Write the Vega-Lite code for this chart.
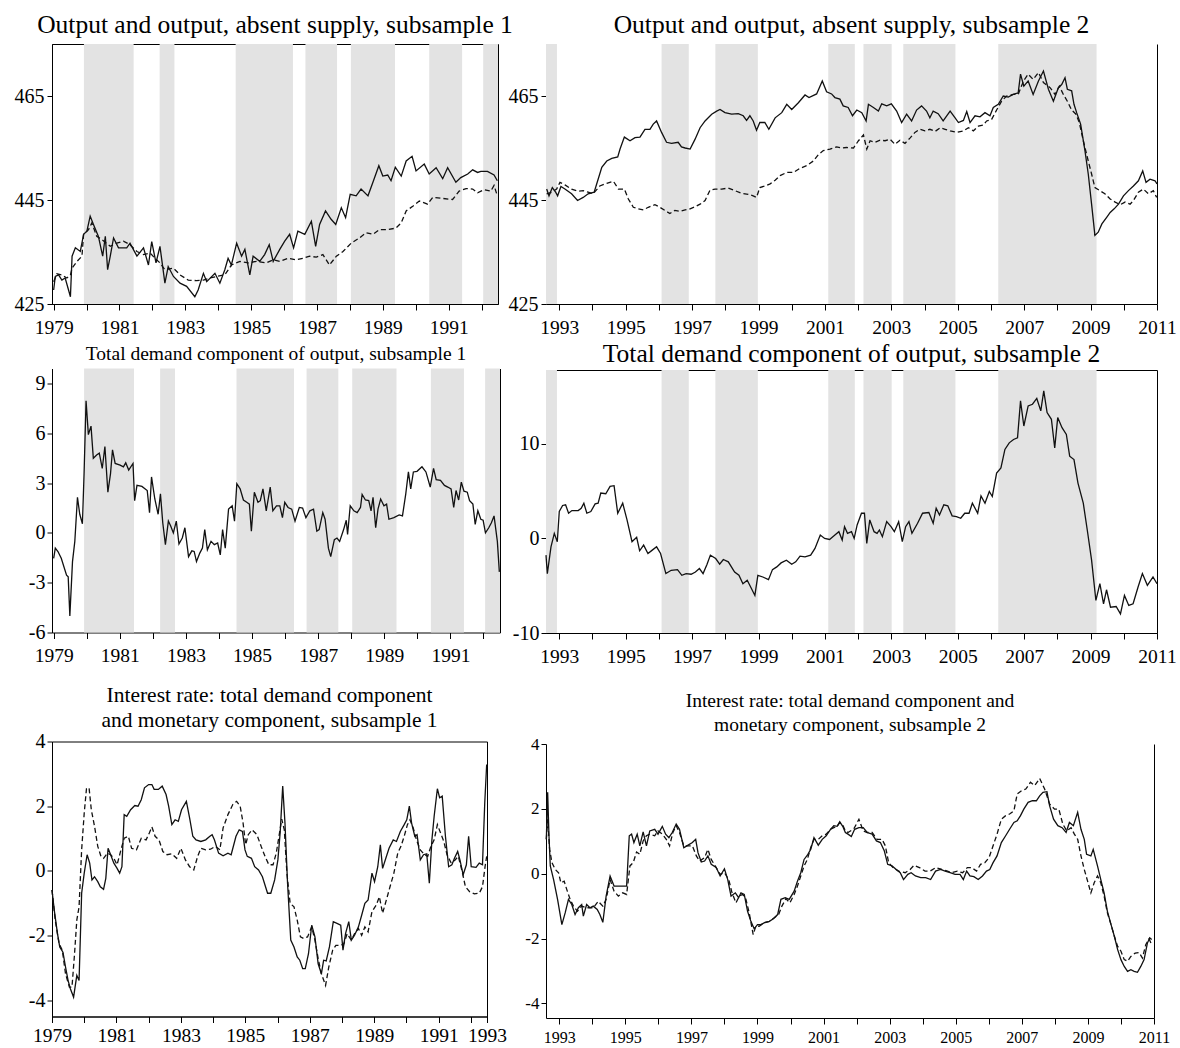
{
"$schema": "https://vega.github.io/schema/vega-lite/v6.json",
"padding": {"left": 0, "top": 12, "right": 0, "bottom": 0},
"background": "white",
"config": {
  "font": "Liberation Serif",
  "view": {"stroke": null},
  "axis": {"grid": false, "domainColor": "#000", "domainWidth": 1, "tickColor": "#000", "tickWidth": 1, "labelColor": "#000", "labelFont": "Liberation Serif", "labelFontSize": 19.5, "labelFlush": false, "labelOverlap": false, "labelBound": false, "titleFont": "Liberation Serif"},
  "title": {"font": "Liberation Serif", "fontWeight": "normal", "color": "#000", "anchor": "middle", "frame": "group"}
},
"datasets": {
  "bands1": [{"start":1979.92,"end":1981.43},{"start":1982.22,"end":1982.67},{"start":1984.53,"end":1986.27},{"start":1986.65,"end":1987.61},{"start":1988.03,"end":1989.37},{"start":1990.41,"end":1991.41},{"start":1992.05,"end":1992.5}],
  "bands2": [{"start":1992.6,"end":1992.93},{"start":1996.08,"end":1996.9},{"start":1997.7,"end":1998.98},{"start":2001.1,"end":2001.9},{"start":2002.16,"end":2003.01},{"start":2003.36,"end":2004.93},{"start":2006.22,"end":2009.18}],
  "out1_output": [{"year":1979.00,"value":427.7},{"year":1979.05,"value":430.3},{"year":1979.15,"value":430.6},{"year":1979.25,"value":429.6},{"year":1979.35,"value":430.0},{"year":1979.51,"value":426.4},{"year":1979.56,"value":434.2},{"year":1979.66,"value":435.8},{"year":1979.81,"value":435.1},{"year":1979.91,"value":438.4},{"year":1980.01,"value":439.0},{"year":1980.11,"value":441.9},{"year":1980.21,"value":440.3},{"year":1980.36,"value":438.0},{"year":1980.49,"value":434.2},{"year":1980.57,"value":438.0},{"year":1980.64,"value":431.6},{"year":1980.72,"value":434.2},{"year":1980.82,"value":437.7},{"year":1980.97,"value":435.8},{"year":1981.22,"value":435.8},{"year":1981.32,"value":436.7},{"year":1981.53,"value":434.2},{"year":1981.73,"value":435.8},{"year":1981.88,"value":432.5},{"year":1981.98,"value":437.0},{"year":1982.11,"value":432.9},{"year":1982.23,"value":436.1},{"year":1982.38,"value":429.0},{"year":1982.48,"value":432.2},{"year":1982.64,"value":430.3},{"year":1982.84,"value":429.0},{"year":1983.04,"value":428.4},{"year":1983.29,"value":426.4},{"year":1983.39,"value":427.7},{"year":1983.55,"value":430.9},{"year":1983.65,"value":429.3},{"year":1983.90,"value":430.9},{"year":1984.05,"value":429.0},{"year":1984.20,"value":431.6},{"year":1984.30,"value":433.8},{"year":1984.40,"value":432.5},{"year":1984.56,"value":436.7},{"year":1984.71,"value":434.2},{"year":1984.81,"value":435.5},{"year":1984.96,"value":430.6},{"year":1985.06,"value":434.2},{"year":1985.26,"value":433.2},{"year":1985.41,"value":434.5},{"year":1985.55,"value":436.4},{"year":1985.67,"value":433.2},{"year":1985.87,"value":435.5},{"year":1986.02,"value":437.1},{"year":1986.17,"value":438.4},{"year":1986.29,"value":435.8},{"year":1986.42,"value":439.0},{"year":1986.63,"value":438.4},{"year":1986.83,"value":440.9},{"year":1986.96,"value":436.1},{"year":1987.08,"value":440.3},{"year":1987.26,"value":442.9},{"year":1987.43,"value":441.3},{"year":1987.57,"value":440.3},{"year":1987.74,"value":443.5},{"year":1987.87,"value":441.6},{"year":1988.01,"value":446.1},{"year":1988.19,"value":445.8},{"year":1988.34,"value":447.1},{"year":1988.55,"value":445.8},{"year":1988.70,"value":448.4},{"year":1988.88,"value":451.6},{"year":1989.00,"value":449.6},{"year":1989.15,"value":449.8},{"year":1989.25,"value":448.7},{"year":1989.38,"value":451.3},{"year":1989.56,"value":449.6},{"year":1989.71,"value":452.5},{"year":1989.89,"value":453.4},{"year":1990.01,"value":450.6},{"year":1990.26,"value":451.9},{"year":1990.41,"value":450.0},{"year":1990.62,"value":451.2},{"year":1990.82,"value":449.1},{"year":1990.97,"value":451.2},{"year":1991.22,"value":448.4},{"year":1991.37,"value":449.3},{"year":1991.58,"value":450.0},{"year":1991.73,"value":450.8},{"year":1991.88,"value":450.3},{"year":1991.98,"value":450.5},{"year":1992.18,"value":450.5},{"year":1992.38,"value":449.8},{"year":1992.48,"value":448.7}],
  "out1_absent": [{"year":1979.00,"value":429.3},{"year":1979.10,"value":430.8},{"year":1979.25,"value":430.6},{"year":1979.40,"value":430.0},{"year":1979.51,"value":430.6},{"year":1979.56,"value":431.9},{"year":1979.71,"value":433.2},{"year":1979.86,"value":434.2},{"year":1979.91,"value":438.4},{"year":1980.06,"value":439.3},{"year":1980.16,"value":440.6},{"year":1980.31,"value":438.0},{"year":1980.46,"value":437.4},{"year":1980.72,"value":436.1},{"year":1980.92,"value":436.7},{"year":1981.12,"value":437.1},{"year":1981.32,"value":436.4},{"year":1981.53,"value":435.1},{"year":1981.73,"value":434.5},{"year":1981.93,"value":434.8},{"year":1982.08,"value":433.8},{"year":1982.23,"value":432.9},{"year":1982.38,"value":431.6},{"year":1982.64,"value":431.9},{"year":1982.84,"value":430.6},{"year":1983.09,"value":429.6},{"year":1983.34,"value":429.5},{"year":1983.55,"value":429.6},{"year":1983.75,"value":430.0},{"year":1983.95,"value":430.3},{"year":1984.20,"value":430.6},{"year":1984.40,"value":432.5},{"year":1984.66,"value":433.2},{"year":1984.91,"value":432.9},{"year":1985.16,"value":433.2},{"year":1985.46,"value":432.9},{"year":1985.67,"value":433.5},{"year":1985.87,"value":433.2},{"year":1986.12,"value":433.8},{"year":1986.37,"value":433.5},{"year":1986.58,"value":433.8},{"year":1986.78,"value":434.2},{"year":1986.98,"value":434.0},{"year":1987.18,"value":434.5},{"year":1987.38,"value":432.5},{"year":1987.59,"value":434.2},{"year":1987.79,"value":435.1},{"year":1988.04,"value":436.7},{"year":1988.29,"value":437.7},{"year":1988.49,"value":438.7},{"year":1988.70,"value":438.4},{"year":1988.90,"value":439.3},{"year":1989.15,"value":439.3},{"year":1989.40,"value":439.6},{"year":1989.56,"value":440.6},{"year":1989.71,"value":442.9},{"year":1989.91,"value":443.8},{"year":1990.11,"value":444.8},{"year":1990.36,"value":444.2},{"year":1990.52,"value":445.5},{"year":1990.82,"value":445.3},{"year":1991.12,"value":445.1},{"year":1991.32,"value":446.7},{"year":1991.53,"value":447.2},{"year":1991.73,"value":447.1},{"year":1991.88,"value":446.4},{"year":1992.08,"value":447.0},{"year":1992.28,"value":446.7},{"year":1992.38,"value":447.8},{"year":1992.48,"value":445.8}],
  "out2_output": [{"year":1992.62,"value":447.1},{"year":1992.69,"value":445.8},{"year":1992.79,"value":447.4},{"year":1992.89,"value":446.5},{"year":1992.95,"value":445.8},{"year":1993.05,"value":447.6},{"year":1993.17,"value":447.1},{"year":1993.37,"value":446.2},{"year":1993.55,"value":444.9},{"year":1993.72,"value":445.5},{"year":1993.87,"value":446.2},{"year":1994.05,"value":446.5},{"year":1994.17,"value":449.0},{"year":1994.28,"value":451.3},{"year":1994.43,"value":452.5},{"year":1994.58,"value":453.0},{"year":1994.76,"value":453.3},{"year":1994.83,"value":454.8},{"year":1994.96,"value":457.1},{"year":1995.13,"value":456.4},{"year":1995.28,"value":457.0},{"year":1995.43,"value":457.1},{"year":1995.58,"value":458.6},{"year":1995.73,"value":458.6},{"year":1995.83,"value":459.6},{"year":1995.93,"value":460.2},{"year":1996.08,"value":458.0},{"year":1996.23,"value":456.1},{"year":1996.38,"value":455.9},{"year":1996.58,"value":456.1},{"year":1996.68,"value":455.2},{"year":1996.79,"value":455.0},{"year":1996.94,"value":454.8},{"year":1997.09,"value":456.7},{"year":1997.24,"value":458.9},{"year":1997.39,"value":460.2},{"year":1997.59,"value":461.5},{"year":1997.74,"value":462.1},{"year":1997.84,"value":462.4},{"year":1997.99,"value":461.8},{"year":1998.19,"value":461.5},{"year":1998.39,"value":461.6},{"year":1998.54,"value":461.2},{"year":1998.64,"value":460.3},{"year":1998.74,"value":461.2},{"year":1998.84,"value":460.2},{"year":1998.94,"value":458.4},{"year":1999.04,"value":459.9},{"year":1999.19,"value":459.9},{"year":1999.31,"value":458.6},{"year":1999.50,"value":460.8},{"year":1999.70,"value":461.8},{"year":1999.85,"value":463.4},{"year":2000.00,"value":462.4},{"year":2000.20,"value":463.7},{"year":2000.40,"value":465.2},{"year":2000.52,"value":464.7},{"year":2000.75,"value":465.4},{"year":2000.92,"value":467.9},{"year":2001.05,"value":465.8},{"year":2001.20,"value":465.4},{"year":2001.30,"value":464.7},{"year":2001.45,"value":464.4},{"year":2001.55,"value":463.1},{"year":2001.70,"value":462.8},{"year":2001.83,"value":461.2},{"year":2001.96,"value":462.3},{"year":2002.11,"value":461.8},{"year":2002.24,"value":460.2},{"year":2002.31,"value":463.4},{"year":2002.46,"value":462.8},{"year":2002.61,"value":462.1},{"year":2002.71,"value":463.5},{"year":2002.86,"value":463.1},{"year":2003.00,"value":463.5},{"year":2003.16,"value":462.1},{"year":2003.31,"value":459.9},{"year":2003.46,"value":461.5},{"year":2003.61,"value":460.2},{"year":2003.76,"value":462.3},{"year":2003.91,"value":463.1},{"year":2004.06,"value":462.1},{"year":2004.16,"value":460.8},{"year":2004.26,"value":462.1},{"year":2004.41,"value":461.6},{"year":2004.56,"value":460.2},{"year":2004.77,"value":462.1},{"year":2004.92,"value":460.8},{"year":2005.02,"value":459.9},{"year":2005.17,"value":460.3},{"year":2005.27,"value":462.0},{"year":2005.37,"value":459.9},{"year":2005.52,"value":461.2},{"year":2005.67,"value":461.0},{"year":2005.82,"value":461.8},{"year":2005.97,"value":461.2},{"year":2006.07,"value":462.8},{"year":2006.22,"value":463.4},{"year":2006.37,"value":465.0},{"year":2006.52,"value":464.8},{"year":2006.67,"value":465.3},{"year":2006.82,"value":465.6},{"year":2006.89,"value":469.2},{"year":2006.99,"value":466.9},{"year":2007.12,"value":467.9},{"year":2007.27,"value":465.3},{"year":2007.43,"value":467.9},{"year":2007.58,"value":469.8},{"year":2007.73,"value":466.3},{"year":2007.88,"value":464.0},{"year":2008.03,"value":466.6},{"year":2008.13,"value":467.2},{"year":2008.23,"value":468.5},{"year":2008.30,"value":466.3},{"year":2008.43,"value":466.0},{"year":2008.50,"value":463.4},{"year":2008.58,"value":461.8},{"year":2008.70,"value":459.6},{"year":2008.83,"value":454.5},{"year":2008.93,"value":450.0},{"year":2009.03,"value":444.2},{"year":2009.13,"value":438.2},{"year":2009.23,"value":438.8},{"year":2009.34,"value":440.4},{"year":2009.49,"value":441.7},{"year":2009.59,"value":442.6},{"year":2009.71,"value":443.3},{"year":2009.84,"value":444.2},{"year":2009.99,"value":445.8},{"year":2010.14,"value":446.8},{"year":2010.29,"value":447.7},{"year":2010.44,"value":448.7},{"year":2010.57,"value":450.6},{"year":2010.67,"value":448.4},{"year":2010.79,"value":449.0},{"year":2010.94,"value":448.7},{"year":2011.00,"value":448.1}],
  "out2_absent": [{"year":1992.62,"value":446.2},{"year":1992.77,"value":446.5},{"year":1992.92,"value":447.1},{"year":1993.02,"value":448.4},{"year":1993.17,"value":447.9},{"year":1993.37,"value":447.1},{"year":1993.57,"value":446.7},{"year":1993.72,"value":446.8},{"year":1993.87,"value":446.5},{"year":1994.02,"value":446.2},{"year":1994.22,"value":447.7},{"year":1994.43,"value":448.2},{"year":1994.63,"value":448.6},{"year":1994.78,"value":447.1},{"year":1994.96,"value":447.1},{"year":1995.08,"value":445.2},{"year":1995.23,"value":443.6},{"year":1995.38,"value":443.3},{"year":1995.53,"value":443.1},{"year":1995.68,"value":443.6},{"year":1995.88,"value":444.1},{"year":1996.03,"value":443.6},{"year":1996.18,"value":443.0},{"year":1996.33,"value":442.4},{"year":1996.48,"value":443.0},{"year":1996.63,"value":442.8},{"year":1996.79,"value":443.1},{"year":1996.94,"value":443.3},{"year":1997.09,"value":443.7},{"year":1997.24,"value":444.2},{"year":1997.39,"value":444.9},{"year":1997.54,"value":446.9},{"year":1997.69,"value":447.1},{"year":1997.89,"value":447.1},{"year":1998.09,"value":447.3},{"year":1998.29,"value":446.8},{"year":1998.49,"value":446.3},{"year":1998.69,"value":446.1},{"year":1998.84,"value":445.8},{"year":1998.94,"value":445.5},{"year":1999.04,"value":447.4},{"year":1999.19,"value":447.7},{"year":1999.35,"value":448.1},{"year":1999.50,"value":448.8},{"year":1999.65,"value":449.7},{"year":1999.85,"value":450.3},{"year":2000.05,"value":450.3},{"year":2000.25,"value":451.1},{"year":2000.45,"value":451.6},{"year":2000.65,"value":452.5},{"year":2000.80,"value":453.7},{"year":2000.95,"value":454.5},{"year":2001.15,"value":454.8},{"year":2001.35,"value":455.2},{"year":2001.50,"value":455.0},{"year":2001.65,"value":455.1},{"year":2001.86,"value":455.0},{"year":2002.01,"value":456.4},{"year":2002.16,"value":457.5},{"year":2002.26,"value":454.8},{"year":2002.36,"value":456.4},{"year":2002.51,"value":456.1},{"year":2002.66,"value":456.5},{"year":2002.81,"value":456.4},{"year":2002.96,"value":456.7},{"year":2003.11,"value":455.7},{"year":2003.26,"value":456.5},{"year":2003.41,"value":455.9},{"year":2003.56,"value":456.9},{"year":2003.71,"value":458.0},{"year":2003.86,"value":458.6},{"year":2004.01,"value":458.3},{"year":2004.16,"value":458.6},{"year":2004.32,"value":458.2},{"year":2004.47,"value":458.9},{"year":2004.62,"value":458.6},{"year":2004.77,"value":458.3},{"year":2004.97,"value":458.0},{"year":2005.17,"value":458.3},{"year":2005.32,"value":458.9},{"year":2005.47,"value":458.3},{"year":2005.62,"value":459.2},{"year":2005.77,"value":459.4},{"year":2005.87,"value":460.2},{"year":2006.02,"value":460.5},{"year":2006.17,"value":462.3},{"year":2006.32,"value":464.0},{"year":2006.47,"value":465.0},{"year":2006.67,"value":465.3},{"year":2006.82,"value":465.3},{"year":2006.98,"value":467.9},{"year":2007.12,"value":469.2},{"year":2007.27,"value":468.2},{"year":2007.43,"value":469.5},{"year":2007.58,"value":467.6},{"year":2007.78,"value":466.6},{"year":2007.93,"value":465.3},{"year":2008.06,"value":466.9},{"year":2008.18,"value":465.3},{"year":2008.30,"value":464.0},{"year":2008.43,"value":462.3},{"year":2008.56,"value":461.5},{"year":2008.66,"value":459.9},{"year":2008.78,"value":456.4},{"year":2008.93,"value":452.5},{"year":2009.03,"value":450.0},{"year":2009.13,"value":447.4},{"year":2009.28,"value":446.8},{"year":2009.43,"value":446.2},{"year":2009.59,"value":445.2},{"year":2009.74,"value":444.6},{"year":2009.89,"value":444.1},{"year":2010.04,"value":444.6},{"year":2010.19,"value":444.2},{"year":2010.29,"value":444.9},{"year":2010.44,"value":446.5},{"year":2010.59,"value":447.1},{"year":2010.74,"value":446.2},{"year":2010.89,"value":446.8},{"year":2010.99,"value":445.5}],
  "dem1": [{"year":1979.00,"value":-1.53},{"year":1979.05,"value":-0.92},{"year":1979.13,"value":-1.12},{"year":1979.23,"value":-1.53},{"year":1979.39,"value":-2.55},{"year":1979.44,"value":-2.65},{"year":1979.49,"value":-5.0},{"year":1979.57,"value":-1.73},{"year":1979.64,"value":-0.51},{"year":1979.72,"value":2.14},{"year":1979.79,"value":1.12},{"year":1979.87,"value":0.55},{"year":1979.92,"value":3.57},{"year":1979.98,"value":7.96},{"year":1980.05,"value":5.92},{"year":1980.13,"value":6.43},{"year":1980.20,"value":4.49},{"year":1980.30,"value":4.69},{"year":1980.38,"value":4.80},{"year":1980.47,"value":3.88},{"year":1980.55,"value":5.20},{"year":1980.64,"value":2.45},{"year":1980.72,"value":3.57},{"year":1980.78,"value":5.00},{"year":1980.86,"value":4.18},{"year":1981.01,"value":4.08},{"year":1981.11,"value":3.98},{"year":1981.18,"value":4.22},{"year":1981.27,"value":3.78},{"year":1981.40,"value":4.18},{"year":1981.45,"value":1.94},{"year":1981.52,"value":2.86},{"year":1981.67,"value":2.80},{"year":1981.83,"value":2.55},{"year":1981.90,"value":1.22},{"year":1981.96,"value":3.37},{"year":1982.06,"value":2.04},{"year":1982.16,"value":1.12},{"year":1982.23,"value":2.35},{"year":1982.30,"value":0.61},{"year":1982.38,"value":-0.71},{"year":1982.47,"value":0.71},{"year":1982.54,"value":0.41},{"year":1982.62,"value":0.0},{"year":1982.71,"value":0.71},{"year":1982.79,"value":-0.67},{"year":1982.89,"value":-0.31},{"year":1982.97,"value":0.31},{"year":1983.08,"value":-1.43},{"year":1983.18,"value":-1.08},{"year":1983.25,"value":-1.12},{"year":1983.32,"value":-1.73},{"year":1983.42,"value":-1.22},{"year":1983.50,"value":-0.92},{"year":1983.57,"value":0.20},{"year":1983.65,"value":-1.02},{"year":1983.76,"value":-0.51},{"year":1983.86,"value":-0.71},{"year":1983.96,"value":-0.61},{"year":1984.04,"value":-1.33},{"year":1984.11,"value":0.20},{"year":1984.19,"value":-0.92},{"year":1984.29,"value":1.43},{"year":1984.40,"value":1.63},{"year":1984.47,"value":0.71},{"year":1984.54,"value":2.96},{"year":1984.64,"value":2.65},{"year":1984.74,"value":1.98},{"year":1984.84,"value":1.84},{"year":1984.92,"value":1.73},{"year":1984.98,"value":0.10},{"year":1985.07,"value":2.45},{"year":1985.18,"value":1.84},{"year":1985.25,"value":1.94},{"year":1985.33,"value":2.65},{"year":1985.43,"value":1.33},{"year":1985.55,"value":2.76},{"year":1985.63,"value":1.33},{"year":1985.74,"value":1.63},{"year":1985.84,"value":1.63},{"year":1985.92,"value":0.92},{"year":1985.99,"value":1.84},{"year":1986.09,"value":1.53},{"year":1986.20,"value":1.43},{"year":1986.30,"value":0.71},{"year":1986.43,"value":1.53},{"year":1986.53,"value":1.49},{"year":1986.63,"value":0.92},{"year":1986.75,"value":1.33},{"year":1986.86,"value":1.43},{"year":1986.96,"value":0.10},{"year":1987.03,"value":0.20},{"year":1987.14,"value":1.22},{"year":1987.21,"value":0.82},{"year":1987.31,"value":-0.92},{"year":1987.38,"value":-1.43},{"year":1987.49,"value":-0.41},{"year":1987.57,"value":-0.31},{"year":1987.65,"value":-0.51},{"year":1987.77,"value":0.20},{"year":1987.85,"value":0.76},{"year":1987.89,"value":-0.10},{"year":1987.97,"value":1.63},{"year":1988.08,"value":1.33},{"year":1988.18,"value":1.22},{"year":1988.28,"value":1.53},{"year":1988.33,"value":2.31},{"year":1988.43,"value":1.98},{"year":1988.53,"value":1.94},{"year":1988.60,"value":1.33},{"year":1988.66,"value":2.14},{"year":1988.74,"value":0.31},{"year":1988.81,"value":1.43},{"year":1988.89,"value":2.04},{"year":1988.99,"value":1.63},{"year":1989.07,"value":1.73},{"year":1989.14,"value":0.82},{"year":1989.29,"value":0.92},{"year":1989.45,"value":1.08},{"year":1989.55,"value":1.02},{"year":1989.65,"value":2.35},{"year":1989.73,"value":3.67},{"year":1989.80,"value":2.65},{"year":1989.88,"value":3.67},{"year":1989.99,"value":3.71},{"year":1990.14,"value":3.98},{"year":1990.26,"value":3.67},{"year":1990.39,"value":2.76},{"year":1990.49,"value":3.88},{"year":1990.57,"value":3.20},{"year":1990.70,"value":3.16},{"year":1990.82,"value":2.86},{"year":1990.92,"value":2.76},{"year":1991.02,"value":2.65},{"year":1991.10,"value":1.53},{"year":1991.17,"value":2.55},{"year":1991.25,"value":1.98},{"year":1991.33,"value":3.06},{"year":1991.41,"value":2.51},{"year":1991.51,"value":2.45},{"year":1991.58,"value":1.94},{"year":1991.68,"value":1.73},{"year":1991.75,"value":0.51},{"year":1991.83,"value":1.33},{"year":1991.92,"value":0.82},{"year":1991.99,"value":0.76},{"year":1992.06,"value":0.0},{"year":1992.16,"value":0.31},{"year":1992.24,"value":0.61},{"year":1992.32,"value":1.02},{"year":1992.42,"value":-0.51},{"year":1992.48,"value":-2.35}],
  "dem2": [{"year":1992.60,"value":-1.77},{"year":1992.64,"value":-3.72},{"year":1992.75,"value":-0.89},{"year":1992.85,"value":0.53},{"year":1992.94,"value":-0.35},{"year":1993.00,"value":2.84},{"year":1993.10,"value":3.48},{"year":1993.19,"value":3.55},{"year":1993.28,"value":2.66},{"year":1993.38,"value":2.94},{"year":1993.57,"value":2.94},{"year":1993.66,"value":3.19},{"year":1993.74,"value":3.72},{"year":1993.83,"value":2.66},{"year":1993.95,"value":2.84},{"year":1994.08,"value":3.65},{"year":1994.17,"value":3.72},{"year":1994.25,"value":4.79},{"year":1994.40,"value":4.72},{"year":1994.53,"value":5.50},{"year":1994.65,"value":5.57},{"year":1994.76,"value":2.66},{"year":1994.91,"value":3.72},{"year":1995.04,"value":1.95},{"year":1995.19,"value":-0.35},{"year":1995.33,"value":0.11},{"year":1995.42,"value":-1.31},{"year":1995.54,"value":-0.71},{"year":1995.67,"value":-1.60},{"year":1995.80,"value":-1.24},{"year":1995.93,"value":-0.89},{"year":1996.05,"value":-1.60},{"year":1996.21,"value":-3.72},{"year":1996.37,"value":-3.37},{"year":1996.56,"value":-3.30},{"year":1996.69,"value":-3.90},{"year":1996.82,"value":-3.72},{"year":1996.97,"value":-3.79},{"year":1997.10,"value":-3.55},{"year":1997.22,"value":-3.19},{"year":1997.33,"value":-3.72},{"year":1997.45,"value":-2.73},{"year":1997.55,"value":-1.77},{"year":1997.71,"value":-2.13},{"year":1997.83,"value":-2.73},{"year":1997.94,"value":-2.23},{"year":1998.09,"value":-2.48},{"year":1998.28,"value":-3.55},{"year":1998.41,"value":-3.90},{"year":1998.53,"value":-4.79},{"year":1998.66,"value":-4.43},{"year":1998.79,"value":-5.32},{"year":1998.89,"value":-6.03},{"year":1998.98,"value":-3.90},{"year":1999.13,"value":-4.08},{"year":1999.30,"value":-4.36},{"year":1999.42,"value":-3.30},{"year":1999.55,"value":-3.01},{"year":1999.68,"value":-2.59},{"year":1999.84,"value":-2.30},{"year":2000.00,"value":-2.73},{"year":2000.12,"value":-2.48},{"year":2000.25,"value":-1.88},{"year":2000.40,"value":-1.95},{"year":2000.57,"value":-1.77},{"year":2000.70,"value":-1.06},{"year":2000.86,"value":0.35},{"year":2000.99,"value":0.0},{"year":2001.14,"value":-0.11},{"year":2001.30,"value":0.35},{"year":2001.42,"value":0.71},{"year":2001.52,"value":-0.18},{"year":2001.59,"value":1.24},{"year":2001.68,"value":0.53},{"year":2001.80,"value":0.71},{"year":2001.88,"value":0.0},{"year":2001.97,"value":1.42},{"year":2002.10,"value":2.66},{"year":2002.19,"value":2.66},{"year":2002.26,"value":-0.53},{"year":2002.35,"value":1.95},{"year":2002.48,"value":0.71},{"year":2002.57,"value":0.53},{"year":2002.64,"value":0.89},{"year":2002.73,"value":0.18},{"year":2002.86,"value":1.77},{"year":2002.99,"value":1.24},{"year":2003.09,"value":0.71},{"year":2003.22,"value":1.77},{"year":2003.33,"value":-0.35},{"year":2003.43,"value":1.24},{"year":2003.53,"value":1.77},{"year":2003.62,"value":0.53},{"year":2003.79,"value":1.60},{"year":2003.94,"value":2.66},{"year":2004.13,"value":2.73},{"year":2004.26,"value":1.60},{"year":2004.35,"value":3.19},{"year":2004.45,"value":2.48},{"year":2004.58,"value":3.55},{"year":2004.70,"value":3.44},{"year":2004.83,"value":2.38},{"year":2004.96,"value":2.30},{"year":2005.09,"value":2.13},{"year":2005.21,"value":2.66},{"year":2005.34,"value":2.66},{"year":2005.44,"value":3.72},{"year":2005.60,"value":2.66},{"year":2005.70,"value":4.50},{"year":2005.82,"value":3.72},{"year":2005.95,"value":4.96},{"year":2006.04,"value":4.43},{"year":2006.17,"value":6.91},{"year":2006.30,"value":7.45},{"year":2006.42,"value":9.40},{"year":2006.55,"value":10.10},{"year":2006.68,"value":10.46},{"year":2006.80,"value":10.64},{"year":2006.89,"value":14.54},{"year":2006.99,"value":11.88},{"year":2007.12,"value":14.00},{"year":2007.25,"value":14.18},{"year":2007.38,"value":14.79},{"year":2007.50,"value":13.48},{"year":2007.59,"value":15.60},{"year":2007.69,"value":13.30},{"year":2007.82,"value":12.59},{"year":2007.92,"value":9.57},{"year":2008.01,"value":12.77},{"year":2008.14,"value":11.70},{"year":2008.27,"value":10.99},{"year":2008.37,"value":8.69},{"year":2008.50,"value":8.33},{"year":2008.62,"value":5.85},{"year":2008.78,"value":3.72},{"year":2008.90,"value":0.89},{"year":2009.03,"value":-2.30},{"year":2009.16,"value":-6.56},{"year":2009.28,"value":-4.79},{"year":2009.39,"value":-6.91},{"year":2009.48,"value":-5.43},{"year":2009.60,"value":-7.27},{"year":2009.77,"value":-7.20},{"year":2009.90,"value":-7.98},{"year":2010.02,"value":-6.03},{"year":2010.15,"value":-7.09},{"year":2010.28,"value":-6.91},{"year":2010.43,"value":-5.14},{"year":2010.56,"value":-3.72},{"year":2010.71,"value":-4.96},{"year":2010.88,"value":-4.08},{"year":2011.00,"value":-4.79}],
  "ir1_demand": [{"year":1979.00,"value":-0.59},{"year":1979.07,"value":-1.21},{"year":1979.17,"value":-1.94},{"year":1979.24,"value":-2.35},{"year":1979.34,"value":-2.51},{"year":1979.42,"value":-2.97},{"year":1979.50,"value":-3.39},{"year":1979.57,"value":-3.64},{"year":1979.67,"value":-3.90},{"year":1979.77,"value":-3.23},{"year":1979.84,"value":-3.39},{"year":1979.92,"value":-0.69},{"year":1980.00,"value":-0.07},{"year":1980.09,"value":0.50},{"year":1980.17,"value":0.24},{"year":1980.24,"value":-0.28},{"year":1980.32,"value":-0.18},{"year":1980.42,"value":-0.33},{"year":1980.50,"value":-0.49},{"year":1980.60,"value":-0.57},{"year":1980.67,"value":-0.23},{"year":1980.74,"value":0.70},{"year":1980.82,"value":0.50},{"year":1980.92,"value":0.24},{"year":1981.02,"value":0.08},{"year":1981.10,"value":-0.07},{"year":1981.17,"value":0.13},{"year":1981.24,"value":1.74},{"year":1981.32,"value":1.69},{"year":1981.44,"value":1.89},{"year":1981.57,"value":2.02},{"year":1981.67,"value":2.00},{"year":1981.77,"value":2.20},{"year":1981.87,"value":2.57},{"year":1982.00,"value":2.67},{"year":1982.10,"value":2.67},{"year":1982.17,"value":2.52},{"year":1982.30,"value":2.52},{"year":1982.42,"value":2.62},{"year":1982.54,"value":2.36},{"year":1982.62,"value":2.00},{"year":1982.72,"value":1.43},{"year":1982.82,"value":1.58},{"year":1982.92,"value":1.53},{"year":1983.02,"value":1.89},{"year":1983.17,"value":2.15},{"year":1983.27,"value":1.64},{"year":1983.37,"value":1.07},{"year":1983.47,"value":0.96},{"year":1983.62,"value":0.91},{"year":1983.77,"value":0.96},{"year":1983.90,"value":1.07},{"year":1983.97,"value":1.12},{"year":1984.04,"value":0.96},{"year":1984.17,"value":0.55},{"year":1984.31,"value":0.47},{"year":1984.46,"value":0.55},{"year":1984.56,"value":0.50},{"year":1984.71,"value":1.07},{"year":1984.81,"value":1.27},{"year":1984.91,"value":1.22},{"year":1984.99,"value":0.65},{"year":1985.06,"value":0.45},{"year":1985.19,"value":0.39},{"year":1985.29,"value":0.13},{"year":1985.41,"value":0.03},{"year":1985.53,"value":-0.18},{"year":1985.69,"value":-0.69},{"year":1985.79,"value":-0.69},{"year":1985.91,"value":-0.28},{"year":1986.01,"value":0.34},{"year":1986.08,"value":1.17},{"year":1986.16,"value":2.62},{"year":1986.23,"value":1.48},{"year":1986.31,"value":-0.38},{"year":1986.41,"value":-2.14},{"year":1986.51,"value":-2.35},{"year":1986.61,"value":-2.66},{"year":1986.69,"value":-2.76},{"year":1986.78,"value":-3.02},{"year":1986.86,"value":-3.02},{"year":1986.96,"value":-2.56},{"year":1987.06,"value":-1.68},{"year":1987.16,"value":-2.04},{"year":1987.26,"value":-2.87},{"year":1987.36,"value":-3.18},{"year":1987.43,"value":-2.76},{"year":1987.51,"value":-2.78},{"year":1987.61,"value":-2.35},{"year":1987.73,"value":-1.57},{"year":1987.86,"value":-1.63},{"year":1987.96,"value":-1.68},{"year":1988.03,"value":-2.45},{"year":1988.11,"value":-1.94},{"year":1988.21,"value":-1.57},{"year":1988.29,"value":-2.14},{"year":1988.39,"value":-1.99},{"year":1988.51,"value":-1.73},{"year":1988.61,"value":-1.37},{"year":1988.71,"value":-1.00},{"year":1988.81,"value":-0.90},{"year":1988.93,"value":-0.07},{"year":1989.01,"value":-0.33},{"year":1989.11,"value":0.13},{"year":1989.19,"value":0.81},{"year":1989.26,"value":0.08},{"year":1989.36,"value":0.39},{"year":1989.46,"value":0.70},{"year":1989.59,"value":0.96},{"year":1989.69,"value":0.91},{"year":1989.81,"value":1.22},{"year":1989.93,"value":1.43},{"year":1990.01,"value":1.58},{"year":1990.09,"value":2.00},{"year":1990.16,"value":1.48},{"year":1990.26,"value":1.07},{"year":1990.33,"value":1.12},{"year":1990.43,"value":0.34},{"year":1990.53,"value":0.50},{"year":1990.63,"value":0.53},{"year":1990.71,"value":-0.38},{"year":1990.79,"value":0.96},{"year":1990.86,"value":1.69},{"year":1990.96,"value":2.54},{"year":1991.03,"value":2.26},{"year":1991.11,"value":2.31},{"year":1991.21,"value":1.07},{"year":1991.31,"value":0.13},{"year":1991.41,"value":0.19},{"year":1991.49,"value":0.39},{"year":1991.59,"value":0.60},{"year":1991.66,"value":0.34},{"year":1991.76,"value":-0.12},{"year":1991.86,"value":0.19},{"year":1991.93,"value":1.07},{"year":1992.01,"value":0.13},{"year":1992.16,"value":0.11},{"year":1992.26,"value":0.24},{"year":1992.36,"value":0.19},{"year":1992.43,"value":2.10},{"year":1992.49,"value":3.29}],
  "ir1_monetary": [{"year":1979.00,"value":-0.59},{"year":1979.10,"value":-1.52},{"year":1979.22,"value":-2.25},{"year":1979.32,"value":-2.45},{"year":1979.42,"value":-3.18},{"year":1979.54,"value":-3.59},{"year":1979.62,"value":-3.59},{"year":1979.70,"value":-2.56},{"year":1979.77,"value":-1.52},{"year":1979.84,"value":-1.11},{"year":1979.92,"value":0.65},{"year":1980.00,"value":1.79},{"year":1980.07,"value":2.54},{"year":1980.15,"value":2.57},{"year":1980.22,"value":1.89},{"year":1980.32,"value":1.38},{"year":1980.42,"value":0.76},{"year":1980.52,"value":0.45},{"year":1980.60,"value":0.39},{"year":1980.72,"value":0.55},{"year":1980.82,"value":0.50},{"year":1980.92,"value":0.39},{"year":1981.02,"value":0.19},{"year":1981.14,"value":0.65},{"year":1981.24,"value":1.01},{"year":1981.37,"value":1.07},{"year":1981.47,"value":0.70},{"year":1981.62,"value":0.65},{"year":1981.77,"value":1.01},{"year":1981.92,"value":0.96},{"year":1982.02,"value":1.17},{"year":1982.10,"value":1.36},{"year":1982.20,"value":1.07},{"year":1982.32,"value":0.96},{"year":1982.44,"value":0.60},{"year":1982.57,"value":0.50},{"year":1982.72,"value":0.53},{"year":1982.87,"value":0.39},{"year":1983.00,"value":0.70},{"year":1983.14,"value":0.34},{"year":1983.27,"value":0.13},{"year":1983.40,"value":0.03},{"year":1983.52,"value":0.45},{"year":1983.62,"value":0.70},{"year":1983.77,"value":0.65},{"year":1983.92,"value":0.67},{"year":1984.07,"value":0.76},{"year":1984.21,"value":0.65},{"year":1984.31,"value":1.33},{"year":1984.46,"value":1.74},{"year":1984.61,"value":2.05},{"year":1984.73,"value":2.15},{"year":1984.84,"value":2.00},{"year":1984.93,"value":1.48},{"year":1985.01,"value":0.81},{"year":1985.09,"value":1.12},{"year":1985.21,"value":1.27},{"year":1985.36,"value":1.12},{"year":1985.49,"value":0.76},{"year":1985.61,"value":0.45},{"year":1985.73,"value":0.19},{"year":1985.86,"value":0.19},{"year":1985.96,"value":0.55},{"year":1986.06,"value":1.17},{"year":1986.13,"value":1.60},{"year":1986.21,"value":1.27},{"year":1986.29,"value":-0.07},{"year":1986.39,"value":-1.00},{"year":1986.51,"value":-1.11},{"year":1986.61,"value":-1.52},{"year":1986.71,"value":-2.04},{"year":1986.81,"value":-2.09},{"year":1986.93,"value":-2.04},{"year":1987.06,"value":-1.73},{"year":1987.16,"value":-2.14},{"year":1987.26,"value":-2.71},{"year":1987.36,"value":-3.18},{"year":1987.49,"value":-3.54},{"year":1987.59,"value":-2.97},{"year":1987.71,"value":-2.45},{"year":1987.81,"value":-2.30},{"year":1987.96,"value":-2.30},{"year":1988.06,"value":-2.25},{"year":1988.16,"value":-1.94},{"year":1988.29,"value":-2.14},{"year":1988.39,"value":-1.94},{"year":1988.51,"value":-1.78},{"year":1988.61,"value":-1.99},{"year":1988.71,"value":-1.73},{"year":1988.81,"value":-1.88},{"year":1988.93,"value":-1.26},{"year":1989.06,"value":-1.06},{"year":1989.16,"value":-0.80},{"year":1989.26,"value":-1.31},{"year":1989.39,"value":-0.85},{"year":1989.49,"value":-0.49},{"year":1989.61,"value":-0.07},{"year":1989.73,"value":0.55},{"year":1989.83,"value":0.76},{"year":1989.93,"value":1.07},{"year":1990.03,"value":1.43},{"year":1990.11,"value":1.58},{"year":1990.21,"value":1.33},{"year":1990.31,"value":0.96},{"year":1990.43,"value":0.65},{"year":1990.56,"value":0.50},{"year":1990.66,"value":0.45},{"year":1990.76,"value":0.76},{"year":1990.86,"value":0.96},{"year":1990.96,"value":1.43},{"year":1991.06,"value":1.17},{"year":1991.16,"value":0.91},{"year":1991.26,"value":0.50},{"year":1991.39,"value":0.24},{"year":1991.51,"value":0.34},{"year":1991.61,"value":0.45},{"year":1991.73,"value":-0.02},{"year":1991.83,"value":-0.49},{"year":1991.96,"value":-0.64},{"year":1992.11,"value":-0.71},{"year":1992.26,"value":-0.69},{"year":1992.36,"value":-0.49},{"year":1992.44,"value":0.13},{"year":1992.49,"value":0.45}],
  "ir2_demand": [{"year":1992.61,"value":1.06},{"year":1992.65,"value":2.51},{"year":1992.69,"value":1.17},{"year":1992.73,"value":0.24},{"year":1992.83,"value":-0.18},{"year":1992.95,"value":-0.79},{"year":1993.08,"value":-1.57},{"year":1993.18,"value":-1.21},{"year":1993.28,"value":-0.79},{"year":1993.38,"value":-0.95},{"year":1993.48,"value":-1.26},{"year":1993.58,"value":-1.05},{"year":1993.68,"value":-0.95},{"year":1993.73,"value":-1.31},{"year":1993.83,"value":-0.95},{"year":1993.93,"value":-1.05},{"year":1994.03,"value":-1.00},{"year":1994.15,"value":-1.10},{"year":1994.23,"value":-1.26},{"year":1994.32,"value":-1.50},{"year":1994.42,"value":-0.69},{"year":1994.54,"value":-0.07},{"year":1994.66,"value":-0.38},{"year":1994.79,"value":-0.38},{"year":1994.92,"value":-0.38},{"year":1995.04,"value":-0.38},{"year":1995.12,"value":1.17},{"year":1995.19,"value":1.22},{"year":1995.26,"value":0.96},{"year":1995.36,"value":1.22},{"year":1995.44,"value":0.86},{"year":1995.54,"value":1.29},{"year":1995.64,"value":0.86},{"year":1995.74,"value":1.32},{"year":1995.89,"value":1.37},{"year":1995.99,"value":1.22},{"year":1996.12,"value":1.46},{"year":1996.22,"value":1.22},{"year":1996.32,"value":1.11},{"year":1996.42,"value":1.27},{"year":1996.54,"value":1.53},{"year":1996.64,"value":1.37},{"year":1996.77,"value":0.80},{"year":1996.90,"value":0.88},{"year":1997.03,"value":0.96},{"year":1997.13,"value":1.06},{"year":1997.20,"value":0.65},{"year":1997.30,"value":0.36},{"year":1997.40,"value":0.39},{"year":1997.50,"value":0.55},{"year":1997.60,"value":0.29},{"year":1997.75,"value":0.19},{"year":1997.87,"value":-0.07},{"year":1998.00,"value":0.15},{"year":1998.10,"value":-0.18},{"year":1998.20,"value":-0.69},{"year":1998.33,"value":-0.59},{"year":1998.43,"value":-0.74},{"year":1998.50,"value":-0.59},{"year":1998.60,"value":-0.64},{"year":1998.70,"value":-1.16},{"year":1998.80,"value":-1.47},{"year":1998.90,"value":-1.70},{"year":1999.00,"value":-1.57},{"year":1999.10,"value":-1.57},{"year":1999.23,"value":-1.50},{"year":1999.36,"value":-1.47},{"year":1999.48,"value":-1.39},{"year":1999.61,"value":-1.26},{"year":1999.71,"value":-0.79},{"year":1999.84,"value":-0.74},{"year":1999.96,"value":-0.79},{"year":2000.11,"value":-0.54},{"year":2000.21,"value":-0.23},{"year":2000.31,"value":0.03},{"year":2000.41,"value":0.44},{"year":2000.51,"value":0.57},{"year":2000.61,"value":0.75},{"year":2000.71,"value":1.11},{"year":2000.84,"value":0.88},{"year":2000.96,"value":1.06},{"year":2001.08,"value":1.17},{"year":2001.21,"value":1.37},{"year":2001.31,"value":1.48},{"year":2001.41,"value":1.46},{"year":2001.49,"value":1.60},{"year":2001.58,"value":1.46},{"year":2001.66,"value":1.27},{"year":2001.74,"value":1.22},{"year":2001.84,"value":1.15},{"year":2001.94,"value":1.37},{"year":2002.07,"value":1.42},{"year":2002.20,"value":1.42},{"year":2002.32,"value":1.27},{"year":2002.47,"value":1.22},{"year":2002.60,"value":1.01},{"year":2002.72,"value":0.96},{"year":2002.84,"value":0.70},{"year":2002.94,"value":0.29},{"year":2003.07,"value":0.24},{"year":2003.20,"value":0.13},{"year":2003.32,"value":0.03},{"year":2003.42,"value":-0.18},{"year":2003.55,"value":-0.02},{"year":2003.65,"value":0.03},{"year":2003.78,"value":-0.07},{"year":2003.94,"value":-0.12},{"year":2004.09,"value":-0.12},{"year":2004.24,"value":-0.18},{"year":2004.39,"value":0.08},{"year":2004.54,"value":0.13},{"year":2004.68,"value":0.08},{"year":2004.83,"value":0.03},{"year":2004.98,"value":-0.02},{"year":2005.13,"value":-0.02},{"year":2005.23,"value":-0.18},{"year":2005.33,"value":0.08},{"year":2005.43,"value":-0.07},{"year":2005.55,"value":-0.09},{"year":2005.68,"value":-0.18},{"year":2005.81,"value":-0.07},{"year":2005.93,"value":0.08},{"year":2006.03,"value":0.13},{"year":2006.13,"value":0.34},{"year":2006.25,"value":0.55},{"year":2006.38,"value":0.96},{"year":2006.51,"value":1.17},{"year":2006.63,"value":1.37},{"year":2006.76,"value":1.58},{"year":2006.86,"value":1.63},{"year":2006.96,"value":1.79},{"year":2007.06,"value":1.99},{"year":2007.19,"value":2.20},{"year":2007.32,"value":2.25},{"year":2007.44,"value":2.25},{"year":2007.54,"value":2.40},{"year":2007.64,"value":2.51},{"year":2007.76,"value":2.53},{"year":2007.84,"value":2.10},{"year":2007.96,"value":1.68},{"year":2008.09,"value":1.48},{"year":2008.22,"value":1.42},{"year":2008.34,"value":1.27},{"year":2008.44,"value":1.58},{"year":2008.56,"value":1.48},{"year":2008.69,"value":1.89},{"year":2008.79,"value":1.37},{"year":2008.89,"value":1.06},{"year":2008.96,"value":0.60},{"year":2009.09,"value":0.55},{"year":2009.16,"value":0.75},{"year":2009.29,"value":0.24},{"year":2009.39,"value":-0.18},{"year":2009.49,"value":-0.59},{"year":2009.59,"value":-1.16},{"year":2009.70,"value":-1.57},{"year":2009.80,"value":-1.93},{"year":2009.90,"value":-2.34},{"year":2010.00,"value":-2.65},{"year":2010.10,"value":-2.86},{"year":2010.20,"value":-3.01},{"year":2010.30,"value":-2.96},{"year":2010.40,"value":-3.01},{"year":2010.50,"value":-3.04},{"year":2010.60,"value":-2.86},{"year":2010.70,"value":-2.65},{"year":2010.80,"value":-2.14},{"year":2010.87,"value":-1.98},{"year":2010.93,"value":-2.03}],
  "ir2_monetary": [{"year":1992.61,"value":1.06},{"year":1992.65,"value":1.68},{"year":1992.71,"value":0.75},{"year":1992.78,"value":0.34},{"year":1992.88,"value":0.13},{"year":1992.98,"value":0.03},{"year":1993.05,"value":-0.28},{"year":1993.15,"value":-0.23},{"year":1993.23,"value":-0.49},{"year":1993.33,"value":-0.79},{"year":1993.43,"value":-1.00},{"year":1993.55,"value":-1.16},{"year":1993.68,"value":-1.00},{"year":1993.83,"value":-1.05},{"year":1994.03,"value":-1.05},{"year":1994.18,"value":-0.85},{"year":1994.32,"value":-1.00},{"year":1994.42,"value":-0.79},{"year":1994.54,"value":-0.18},{"year":1994.66,"value":-0.54},{"year":1994.79,"value":-0.69},{"year":1994.92,"value":-0.59},{"year":1995.04,"value":-0.64},{"year":1995.14,"value":0.24},{"year":1995.24,"value":0.34},{"year":1995.34,"value":0.67},{"year":1995.44,"value":0.60},{"year":1995.54,"value":1.01},{"year":1995.64,"value":1.17},{"year":1995.74,"value":1.22},{"year":1995.89,"value":1.17},{"year":1995.99,"value":1.32},{"year":1996.12,"value":1.22},{"year":1996.24,"value":1.06},{"year":1996.34,"value":0.86},{"year":1996.44,"value":1.27},{"year":1996.54,"value":1.48},{"year":1996.64,"value":1.27},{"year":1996.77,"value":0.86},{"year":1996.90,"value":0.86},{"year":1997.03,"value":0.86},{"year":1997.15,"value":0.55},{"year":1997.25,"value":0.39},{"year":1997.40,"value":0.50},{"year":1997.50,"value":0.75},{"year":1997.60,"value":0.44},{"year":1997.75,"value":0.19},{"year":1997.87,"value":-0.02},{"year":1998.00,"value":0.03},{"year":1998.13,"value":-0.18},{"year":1998.23,"value":-0.59},{"year":1998.35,"value":-0.90},{"year":1998.45,"value":-0.69},{"year":1998.55,"value":-0.64},{"year":1998.65,"value":-0.79},{"year":1998.75,"value":-1.21},{"year":1998.87,"value":-1.88},{"year":1998.95,"value":-1.62},{"year":1999.05,"value":-1.62},{"year":1999.20,"value":-1.52},{"year":1999.36,"value":-1.47},{"year":1999.51,"value":-1.36},{"year":1999.64,"value":-1.26},{"year":1999.74,"value":-1.00},{"year":1999.86,"value":-0.77},{"year":1999.98,"value":-0.90},{"year":2000.11,"value":-0.64},{"year":2000.21,"value":-0.38},{"year":2000.31,"value":-0.07},{"year":2000.41,"value":0.24},{"year":2000.51,"value":0.44},{"year":2000.61,"value":0.80},{"year":2000.71,"value":1.06},{"year":2000.84,"value":1.06},{"year":2000.96,"value":1.17},{"year":2001.08,"value":1.22},{"year":2001.21,"value":1.37},{"year":2001.31,"value":1.42},{"year":2001.41,"value":1.46},{"year":2001.49,"value":1.58},{"year":2001.58,"value":1.50},{"year":2001.66,"value":1.32},{"year":2001.74,"value":1.27},{"year":2001.92,"value":1.39},{"year":2002.07,"value":1.68},{"year":2002.20,"value":1.32},{"year":2002.32,"value":1.27},{"year":2002.47,"value":1.27},{"year":2002.62,"value":1.06},{"year":2002.77,"value":1.06},{"year":2002.87,"value":0.86},{"year":2002.97,"value":0.34},{"year":2003.10,"value":0.19},{"year":2003.27,"value":0.08},{"year":2003.47,"value":0.03},{"year":2003.62,"value":0.13},{"year":2003.74,"value":0.26},{"year":2003.90,"value":0.19},{"year":2004.07,"value":0.08},{"year":2004.22,"value":0.08},{"year":2004.40,"value":0.19},{"year":2004.58,"value":0.13},{"year":2004.75,"value":0.08},{"year":2004.88,"value":0.03},{"year":2005.05,"value":0.08},{"year":2005.21,"value":0.03},{"year":2005.35,"value":0.19},{"year":2005.48,"value":0.19},{"year":2005.63,"value":0.08},{"year":2005.75,"value":0.29},{"year":2005.88,"value":0.34},{"year":2006.01,"value":0.50},{"year":2006.13,"value":0.86},{"year":2006.25,"value":1.22},{"year":2006.38,"value":1.68},{"year":2006.51,"value":1.79},{"year":2006.63,"value":1.84},{"year":2006.76,"value":1.94},{"year":2006.86,"value":2.46},{"year":2006.99,"value":2.56},{"year":2007.12,"value":2.61},{"year":2007.26,"value":2.82},{"year":2007.39,"value":2.72},{"year":2007.54,"value":2.94},{"year":2007.69,"value":2.61},{"year":2007.84,"value":2.15},{"year":2007.99,"value":1.99},{"year":2008.12,"value":1.99},{"year":2008.24,"value":1.53},{"year":2008.36,"value":1.32},{"year":2008.49,"value":1.42},{"year":2008.59,"value":1.22},{"year":2008.69,"value":1.06},{"year":2008.79,"value":0.55},{"year":2008.89,"value":0.13},{"year":2008.99,"value":-0.23},{"year":2009.09,"value":-0.59},{"year":2009.19,"value":-0.28},{"year":2009.29,"value":-0.07},{"year":2009.39,"value":-0.28},{"year":2009.49,"value":-0.69},{"year":2009.59,"value":-1.21},{"year":2009.70,"value":-1.57},{"year":2009.80,"value":-1.93},{"year":2009.90,"value":-2.24},{"year":2010.00,"value":-2.39},{"year":2010.10,"value":-2.65},{"year":2010.20,"value":-2.70},{"year":2010.30,"value":-2.55},{"year":2010.43,"value":-2.45},{"year":2010.55,"value":-2.43},{"year":2010.65,"value":-2.60},{"year":2010.75,"value":-2.19},{"year":2010.85,"value":-2.01},{"year":2010.93,"value":-2.19}]
},
"spacing": -9,
"hconcat": [
 {"spacing": 18.5, "vconcat": [
  {"spacing": 6.5, "vconcat": [
   {"width": 446, "height": 260,
    "view": {"stroke": "#000", "strokeWidth": 1},
    "title": {"text": "Output and output, absent supply, subsample 1", "fontSize": 25.5, "offset": 6},
    "layer": [
     {"data": {"name": "bands1"}, "mark": {"type": "rect", "color": "#e3e3e3"},
      "encoding": {"x": {"field": "start", "type": "quantitative", "scale": {"domain": [1978.95, 1992.5], "nice": false, "zero": false},
             "axis": {"values": [1979,1980,1981,1982,1983,1984,1985,1986,1987,1988,1989,1990,1991,1992], "labelExpr": "datum.value % 2 == 1 ? datum.value + '' : ''", "title": null, "tickSize": 6, "labelPadding": 8}}, "x2": {"field": "end"}}},
     {"data": {"name": "out1_output"}, "mark": {"type": "line", "color": "#111", "strokeWidth": 1.3},
      "encoding": {
       "x": {"field": "year", "type": "quantitative", "scale": {"domain": [1978.95, 1992.5], "nice": false, "zero": false},
             "axis": {"values": [1979,1980,1981,1982,1983,1984,1985,1986,1987,1988,1989,1990,1991,1992], "labelExpr": "datum.value % 2 == 1 ? datum.value + '' : ''", "title": null, "tickSize": 6, "labelPadding": 8}},
       "y": {"field": "value", "type": "quantitative", "scale": {"domain": [425, 475], "nice": false, "zero": false},
             "axis": {"values": [425, 445, 465], "labelExpr": "datum.value + ''", "title": " ", "titleFontSize": 1, "titleX": -50, "tickSize": 5, "labelPadding": 3, "labelFontSize": 20}}}},
     {"data": {"name": "out1_absent"}, "mark": {"type": "line", "color": "#111", "strokeWidth": 1.3, "strokeDash": [5, 3]},
      "encoding": {
       "x": {"field": "year", "type": "quantitative", "scale": {"domain": [1978.95, 1992.5], "nice": false, "zero": false},
             "axis": {"values": [1979,1980,1981,1982,1983,1984,1985,1986,1987,1988,1989,1990,1991,1992], "labelExpr": "datum.value % 2 == 1 ? datum.value + '' : ''", "title": null, "tickSize": 6, "labelPadding": 8}},
       "y": {"field": "value", "type": "quantitative", "scale": {"domain": [425, 475], "nice": false, "zero": false},
             "axis": {"values": [425, 445, 465], "labelExpr": "datum.value + ''", "title": " ", "titleFontSize": 1, "titleX": -50, "tickSize": 5, "labelPadding": 3, "labelFontSize": 20}}}}
    ]},
   {"width": 448, "height": 264,
    "title": {"text": "Total demand component of output, subsample 1", "fontSize": 19.5, "offset": 4},
    "resolve": {"axis": {"y": "independent"}},
    "layer": [
     {"data": {"name": "bands1"}, "mark": {"type": "rect", "color": "#e3e3e3"},
      "encoding": {"x": {"field": "start", "type": "quantitative", "scale": {"domain": [1978.95, 1992.5], "nice": false, "zero": false},
             "axis": {"values": [1979,1980,1981,1982,1983,1984,1985,1986,1987,1988,1989,1990,1991,1992], "labelExpr": "datum.value % 2 == 1 ? datum.value + '' : ''", "title": null, "tickSize": 6, "labelPadding": 8}}, "x2": {"field": "end"},
       "y": {"datum": -6, "type": "quantitative", "scale": {"domain": [-6, 9.9], "nice": false, "zero": false}, "axis": {"orient": "right", "labels": false, "ticks": false, "domain": true, "title": null}},
       "y2": {"datum": 9.9}}},
     {"data": {"name": "dem1"}, "mark": {"type": "line", "color": "#111", "strokeWidth": 1.3},
      "encoding": {
       "x": {"field": "year", "type": "quantitative", "scale": {"domain": [1978.95, 1992.5], "nice": false, "zero": false},
             "axis": {"values": [1979,1980,1981,1982,1983,1984,1985,1986,1987,1988,1989,1990,1991,1992], "labelExpr": "datum.value % 2 == 1 ? datum.value + '' : ''", "title": null, "tickSize": 6, "labelPadding": 8}},
       "y": {"field": "value", "type": "quantitative", "scale": {"domain": [-6, 9.9], "nice": false, "zero": false},
             "axis": {"orient": "left", "values": [-6, -3, 0, 3, 6, 9], "labelExpr": "datum.value + ''", "title": " ", "titleFontSize": 1, "titleX": -49, "tickSize": 5, "labelPadding": 2, "labelFontSize": 20}}}}
    ]}
  ]},
  {"width": 435, "height": 275,
   "view": {"stroke": "#000", "strokeWidth": 1},
   "title": {"text": ["Interest rate: total demand component", "and monetary component, subsample 1"], "fontSize": 21.5, "lineHeight": 25.5, "offset": 0},
   "layer": [
    {"data": {"name": "ir1_demand"}, "mark": {"type": "line", "color": "#111", "strokeWidth": 1.3},
     "encoding": {
      "x": {"field": "year", "type": "quantitative", "scale": {"domain": [1979, 1992.5], "nice": false, "zero": false},
            "axis": {"values": [1979,1980,1981,1982,1983,1984,1985,1986,1987,1988,1989,1990,1991,1992,1992.5], "labelExpr": "datum.value > 1992.2 ? '1993' : (datum.value % 2 == 1 ? datum.value + '' : '')", "title": null, "tickSize": 6, "labelPadding": 4}},
      "y": {"field": "value", "type": "quantitative", "scale": {"domain": [-4.5, 4], "nice": false, "zero": false},
            "axis": {"values": [-4, -2, 0, 2, 4], "labelExpr": "datum.value + ''", "title": " ", "titleFontSize": 1, "titleX": -35, "tickSize": 5, "labelPadding": 2, "labelFontSize": 20}}}},
    {"data": {"name": "ir1_monetary"}, "mark": {"type": "line", "color": "#111", "strokeWidth": 1.3, "strokeDash": [5, 3]},
     "encoding": {
      "x": {"field": "year", "type": "quantitative", "scale": {"domain": [1979, 1992.5], "nice": false, "zero": false},
            "axis": {"values": [1979,1980,1981,1982,1983,1984,1985,1986,1987,1988,1989,1990,1991,1992,1992.5], "labelExpr": "datum.value > 1992.2 ? '1993' : (datum.value % 2 == 1 ? datum.value + '' : '')", "title": null, "tickSize": 6, "labelPadding": 4}},
      "y": {"field": "value", "type": "quantitative", "scale": {"domain": [-4.5, 4], "nice": false, "zero": false},
            "axis": {"values": [-4, -2, 0, 2, 4], "labelExpr": "datum.value + ''", "title": " ", "titleFontSize": 1, "titleX": -35, "tickSize": 5, "labelPadding": 2, "labelFontSize": 20}}}}
   ]}
 ]},
 {"spacing": 25, "vconcat": [
  {"spacing": 4, "vconcat": [
   {"width": 611, "height": 260,
    "title": {"text": "Output and output, absent supply, subsample 2", "fontSize": 25.5, "offset": 6},
    "resolve": {"axis": {"y": "independent"}},
    "layer": [
     {"data": {"name": "bands2"}, "mark": {"type": "rect", "color": "#e3e3e3"},
      "encoding": {"x": {"field": "start", "type": "quantitative", "scale": {"domain": [1992.6, 2011], "nice": false, "zero": false},
             "axis": {"values": [1993,1994,1995,1996,1997,1998,1999,2000,2001,2002,2003,2004,2005,2006,2007,2008,2009,2010,2011], "labelExpr": "datum.value % 2 == 1 ? datum.value + '' : ''", "title": null, "tickSize": 6, "labelPadding": 8}}, "x2": {"field": "end"}}},
     {"data": {"name": "out2_output"}, "mark": {"type": "line", "color": "#111", "strokeWidth": 1.3},
      "encoding": {
       "x": {"field": "year", "type": "quantitative", "scale": {"domain": [1992.6, 2011], "nice": false, "zero": false},
             "axis": {"values": [1993,1994,1995,1996,1997,1998,1999,2000,2001,2002,2003,2004,2005,2006,2007,2008,2009,2010,2011], "labelExpr": "datum.value % 2 == 1 ? datum.value + '' : ''", "title": null, "tickSize": 6, "labelPadding": 8}},
       "y": {"field": "value", "type": "quantitative", "scale": {"domain": [425, 475], "nice": false, "zero": false},
             "axis": {"orient": "left", "values": [425, 445, 465], "labelExpr": "datum.value + ''", "title": " ", "titleFontSize": 1, "titleX": -39, "tickSize": 5, "labelPadding": 3, "labelFontSize": 20}}}},
     {"data": {"name": "out2_absent"}, "mark": {"type": "line", "color": "#111", "strokeWidth": 1.3, "strokeDash": [5, 3]},
      "encoding": {
       "x": {"field": "year", "type": "quantitative", "scale": {"domain": [1992.6, 2011], "nice": false, "zero": false},
             "axis": {"values": [1993,1994,1995,1996,1997,1998,1999,2000,2001,2002,2003,2004,2005,2006,2007,2008,2009,2010,2011], "labelExpr": "datum.value % 2 == 1 ? datum.value + '' : ''", "title": null, "tickSize": 6, "labelPadding": 8}},
       "y": {"field": "value", "type": "quantitative", "scale": {"domain": [425, 475], "nice": false, "zero": false},
             "axis": {"orient": "right", "labels": false, "ticks": false, "domain": true, "title": null}}}}
    ]},
   {"width": 611, "height": 263,
    "view": {"stroke": "#000", "strokeWidth": 1},
    "title": {"text": "Total demand component of output, subsample 2", "fontSize": 25.5, "offset": 3},
    "layer": [
     {"data": {"name": "bands2"}, "mark": {"type": "rect", "color": "#e3e3e3"},
      "encoding": {"x": {"field": "start", "type": "quantitative", "scale": {"domain": [1992.6, 2011], "nice": false, "zero": false},
             "axis": {"values": [1993,1994,1995,1996,1997,1998,1999,2000,2001,2002,2003,2004,2005,2006,2007,2008,2009,2010,2011], "labelExpr": "datum.value % 2 == 1 ? datum.value + '' : ''", "title": null, "tickSize": 6, "labelPadding": 8}}, "x2": {"field": "end"}}},
     {"data": {"name": "dem2"}, "mark": {"type": "line", "color": "#111", "strokeWidth": 1.3},
      "encoding": {
       "x": {"field": "year", "type": "quantitative", "scale": {"domain": [1992.6, 2011], "nice": false, "zero": false},
             "axis": {"values": [1993,1994,1995,1996,1997,1998,1999,2000,2001,2002,2003,2004,2005,2006,2007,2008,2009,2010,2011], "labelExpr": "datum.value % 2 == 1 ? datum.value + '' : ''", "title": null, "tickSize": 6, "labelPadding": 8}},
       "y": {"field": "value", "type": "quantitative", "scale": {"domain": [-10, 17.8], "nice": false, "zero": false},
             "axis": {"values": [-10, 0, 10], "labelExpr": "datum.value + ''", "title": " ", "titleFontSize": 1, "titleX": -39, "tickSize": 5, "labelPadding": 2, "labelFontSize": 20}}}}
    ]}
  ]},
  {"width": 608, "height": 274,
   "title": {"text": ["Interest rate: total demand component and", "monetary component, subsample 2"], "fontSize": 19.5, "lineHeight": 23.5, "offset": 0},
   "resolve": {"axis": {"y": "independent"}},
   "layer": [
    {"data": {"name": "ir2_demand"}, "mark": {"type": "line", "color": "#111", "strokeWidth": 1.3},
     "encoding": {
      "x": {"field": "year", "type": "quantitative", "scale": {"domain": [1992.6, 2011], "nice": false, "zero": false},
            "axis": {"values": [1993,1994,1995,1996,1997,1998,1999,2000,2001,2002,2003,2004,2005,2006,2007,2008,2009,2010,2011], "labelExpr": "datum.value % 2 == 1 ? datum.value + '' : ''", "title": null, "tickSize": 6, "labelPadding": 5, "labelFontSize": 16}},
      "y": {"field": "value", "type": "quantitative", "scale": {"domain": [-4.45, 4], "nice": false, "zero": false},
            "axis": {"orient": "left", "values": [-4, -2, 0, 2, 4], "labelExpr": "datum.value + ''", "title": " ", "titleFontSize": 1, "titleX": -38, "tickSize": 5, "labelPadding": 2, "labelFontSize": 17}}}},
    {"data": {"name": "ir2_monetary"}, "mark": {"type": "line", "color": "#111", "strokeWidth": 1.3, "strokeDash": [5, 3]},
     "encoding": {
      "x": {"field": "year", "type": "quantitative", "scale": {"domain": [1992.6, 2011], "nice": false, "zero": false},
            "axis": {"values": [1993,1994,1995,1996,1997,1998,1999,2000,2001,2002,2003,2004,2005,2006,2007,2008,2009,2010,2011], "labelExpr": "datum.value % 2 == 1 ? datum.value + '' : ''", "title": null, "tickSize": 6, "labelPadding": 5, "labelFontSize": 16}},
      "y": {"field": "value", "type": "quantitative", "scale": {"domain": [-4.45, 4], "nice": false, "zero": false},
            "axis": {"orient": "right", "labels": false, "ticks": false, "domain": true, "title": null}}}}
   ]}
 ]}
]
}
